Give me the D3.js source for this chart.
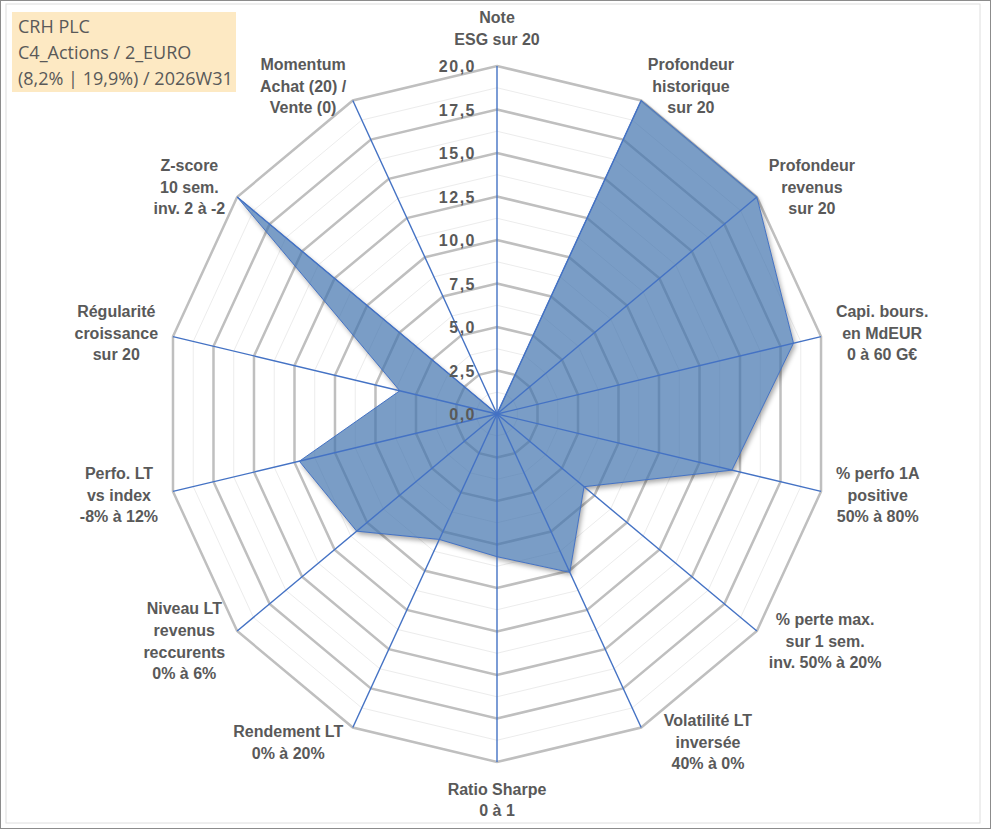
<!DOCTYPE html>
<html>
<head>
<meta charset="utf-8">
<script src="https://cdn.jsdelivr.net/npm/d3@7"></script>
<style>
    html, body { margin: 0; padding: 0; background: #fff; }
    svg { display: block; }
    .lbl { font-family: "Liberation Sans", Arial, sans-serif; font-weight: bold; font-size: 16px; fill: #595959; }
    .tick { letter-spacing: 1.5px; }
    .title { font-family: "Open Sans", sans-serif; font-size: 18px; fill: #595959; }
</style>
</head>
<body>
<svg id="chart" width="991" height="830"></svg>
<script>
/*
 * Data
 * */
var categories = [
    ['Note', 'ESG sur 20'],
    ['Profondeur', 'historique', 'sur 20'],
    ['Profondeur', 'revenus', 'sur 20'],
    ['Capi. bours.', 'en MdEUR', '0 à 60 G€'],
    ['% perfo 1A', 'positive', '50% à 80%'],
    ['% perte max.', 'sur 1 sem.', 'inv. 50% à 20%'],
    ['Volatilité LT', 'inversée', '40% à 0%'],
    ['Ratio Sharpe', '0 à 1'],
    ['Rendement LT', '0% à 20%'],
    ['Niveau LT', 'revenus', 'reccurents', '0% à 6%'],
    ['Perfo. LT', 'vs index', '-8% à 12%'],
    ['Régularité', 'croissance', 'sur 20'],
    ['Z-score', '10 sem.', 'inv. 2 à -2'],
    ['Momentum', 'Achat (20) /', 'Vente (0)']
];
var scores = [0, 20, 20, 18.3, 14.5, 6.7, 10.1, 8.2, 8.0, 10.8, 12.2, 6.0, 20, 0];
var tickValues = [0, 2.5, 5, 7.5, 10, 12.5, 15, 17.5, 20];
var minorValues = [1.25, 3.75, 6.25, 8.75, 11.25, 13.75, 16.25, 18.75];
var titleLines = ['CRH PLC', 'C4_Actions / 2_EURO', '(8,2% | 19,9%) / 2026W31'];

/*
 * Layout
 * */
var width = 991, height = 830,
    cx = 497, cy = 414,
    radius = 348,
    xRatio = 0.955,
    labelGap = 16,
    lineHeight = 21.7,
    blue = '#4472c4',
    grey = '#bfbfbf';

var svg = d3.select('#chart');

var r = d3.scaleLinear().domain([0, 20]).range([0, radius]);
var angle = d3.scaleLinear().domain([0, categories.length]).range([0, 2 * Math.PI]);

var fr = d3.formatLocale({ decimal: ',', thousands: ' ', grouping: [3], currency: ['', '€'] });
var tickFormat = fr.format('.1f');

function pt(i, v) {
    var a = angle(i);
    return [cx + xRatio * r(v) * Math.sin(a), cy - r(v) * Math.cos(a)];
}

var ring = d3.line().curve(d3.curveLinearClosed);

function ringPoints(v) {
    return categories.map(function (c, i) { return pt(i, v); });
}

function ringPath(v) {
    return ring(ringPoints(v));
}

var scorePath = ring(scores.map(function (v, i) { return pt(i, v); }));
var outerRing = ringPoints(20);

// frame
svg.append('rect').attr('x', 0.5).attr('y', 0.5).attr('width', width - 1).attr('height', height - 2)
    .attr('fill', '#fff').attr('stroke', '#8c8c8c');
svg.append('rect').attr('x', 6).attr('y', 4).attr('width', 974).attr('height', 819)
    .attr('fill', 'none').attr('stroke', '#dedede');

// shadow, only outside of the polygon
var defs = svg.append('defs');
defs.append('filter').attr('id', 'blur').attr('x', '-10%').attr('y', '-10%').attr('width', '120%').attr('height', '120%')
    .append('feGaussianBlur').attr('stdDeviation', 2.5);
var mask = defs.append('mask').attr('id', 'outside');
mask.append('rect').attr('width', width).attr('height', height).attr('fill', '#fff');
mask.append('path').attr('d', scorePath).attr('fill', '#000');

// gridlines
svg.append('g').selectAll('path')
    .data(minorValues)
    .join('path')
    .attr('d', ringPath)
    .attr('fill', 'none')
    .attr('stroke', '#ececec')
    .attr('stroke-width', 1);

svg.append('g').selectAll('path')
    .data(tickValues.filter(function (v) { return v > 0; }))
    .join('path')
    .attr('d', ringPath)
    .attr('fill', 'none')
    .attr('stroke', grey)
    .attr('stroke-width', 2.5);

// series
svg.append('g').attr('mask', 'url(#outside)')
    .append('path')
    .attr('d', scorePath)
    .attr('transform', 'translate(2,3)')
    .attr('fill', '#000')
    .attr('opacity', 0.35)
    .attr('filter', 'url(#blur)');

svg.append('path')
    .attr('d', scorePath)
    .attr('fill', '#4173ae')
    .attr('fill-opacity', 0.7);

// spokes
svg.append('g').selectAll('line')
    .data(categories)
    .join('line')
    .attr('x1', cx).attr('y1', cy)
    .attr('x2', function (d, i) { return pt(i, 20)[0]; })
    .attr('y2', function (d, i) { return pt(i, 20)[1]; })
    .attr('stroke', blue)
    .attr('stroke-width', 1.4);

svg.append('path')
    .attr('d', scorePath)
    .attr('fill', 'none')
    .attr('stroke', blue)
    .attr('stroke-width', 1);

// value axis labels
svg.append('g').selectAll('text')
    .data(tickValues)
    .join('text')
    .attr('class', 'lbl tick')
    .attr('x', cx - 21)
    .attr('y', function (v) { return cy - r(v) + 6; })
    .attr('text-anchor', 'end')
    .text(tickFormat);

// category labels
var labelR = radius + labelGap;
categories.forEach(function (lines, i) {
    var a = angle(i),
        s = Math.sin(a), c = Math.cos(a),
        ax = cx + xRatio * labelR * s,
        ay = cy - labelR * c,
        h = lines.length * lineHeight;

    var texts = svg.append('g').selectAll('text')
        .data(lines)
        .join('text')
        .attr('class', 'lbl')
        .attr('text-anchor', 'middle')
        .text(function (d) { return d; });

    var w = d3.max(texts.nodes(), function (n) { return n.getComputedTextLength(); });
    var bx, top;
    if (Math.abs(s) < 0.01) {
        bx = ax;
        top = c > 0 ? ay - h : ay;
    } else {
        bx = s > 0 ? ax + w / 2 : ax - w / 2;
        top = ay - h / 2;
        // labels close to the bottom axis: push sideways until the top corners clear the ring
        if (c < -0.8) {
            var dir = s > 0 ? 1 : -1, guard = 0;
            var overlaps = function () {
                return [[bx - w / 2, top], [bx + w / 2, top]]
                    .some(function (p) { return d3.polygonContains(outerRing, p); });
            };
            while (overlaps() && guard < 40) {
                bx += dir;
                guard++;
            }
        }
    }
    texts.attr('x', bx)
        .attr('y', function (d, k) { return top + lineHeight * k + lineHeight / 2 + 5.7; });
});

// title box
svg.append('rect').attr('x', 12).attr('y', 12).attr('width', 224).attr('height', 80).attr('fill', '#fde9c3');
svg.append('g').selectAll('text')
    .data(titleLines)
    .join('text')
    .attr('class', 'title')
    .attr('x', 18)
    .attr('y', function (d, k) { return 33 + k * 26; })
    .text(function (d) { return d; });
</script>
</body>
</html>
